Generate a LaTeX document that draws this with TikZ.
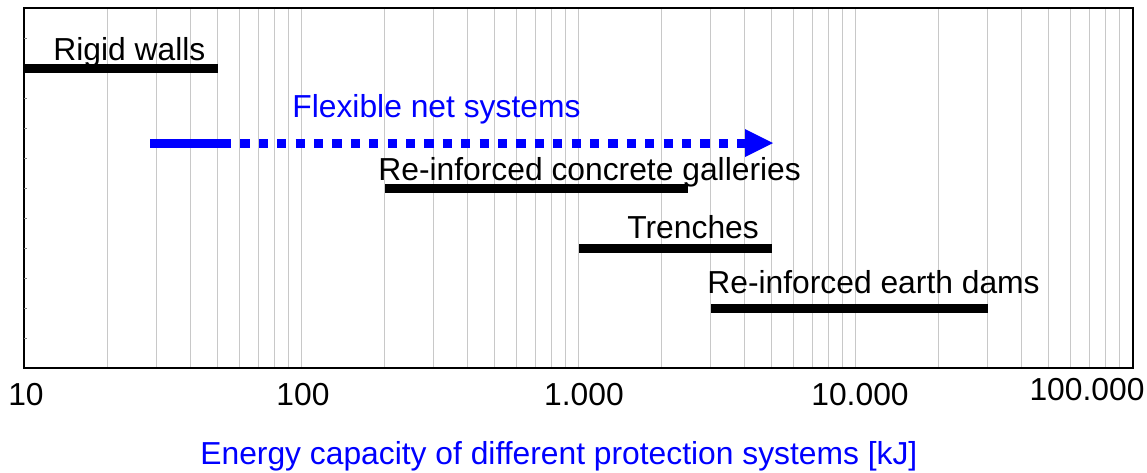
\documentclass[tikz,border=0pt]{standalone}
\usepackage{fontspec}
\setmainfont{Liberation Sans}
\definecolor{netblue}{RGB}{0,0,255}
\definecolor{gridgray}{RGB}{200,200,200}
\begin{document}
\begin{tikzpicture}[x=0.5pt,y=-0.5pt,
  lbl/.style={inner sep=0pt,font=\fontsize{15.9}{18}\selectfont},
  bar/.style={line width=4.5pt,black},
  netbar/.style={line width=4.5pt,netblue},
  gridline/.style={gridgray,line width=0.5pt}]
\useasboundingbox (0,0) rectangle (1147,472);
% grid
\foreach \d in {0,1,2,3}{
  \foreach \k in {2,...,10}{
    \pgfmathsetmacro{\gx}{24+277*(\d+ln(\k)/ln(10))}
    \draw[gridline] (\gx,8) -- (\gx,368);
  }
}
% frame
\draw[line width=0.75pt] (24,8) rectangle (1133,368);
\foreach \yy in {38,68,...,338}{
  \draw[gray,line width=0.4pt] (24,\yy) -- (27,\yy);
}
% bars
\coordinate (rw1) at (24,68);   \coordinate (rw2) at (218,68);
\coordinate (fn1) at (150,143); \coordinate (fn2) at (222,143);
\coordinate (fn3) at (745,143); \coordinate (fnt) at (773,143);
\coordinate (rc1) at (385,188); \coordinate (rc2) at (688,188);
\coordinate (tr1) at (579,248); \coordinate (tr2) at (772,248);
\coordinate (ed1) at (711,308); \coordinate (ed2) at (988,308);
\draw[bar] (rw1) -- (rw2);
\draw[bar] (rc1) -- (rc2);
\draw[bar] (tr1) -- (tr2);
\draw[bar] (ed1) -- (ed2);
\draw[netbar] (fn1) -- (fn2);
\draw[netbar,dash pattern=on 4.6pt off 4.6pt] (fn2) -- (fn3);
\fill[netblue] (745,129) -- (fnt) -- (745,157) -- cycle;
% labels
\node[lbl,anchor=base west] (trw) at (53,60) {Rigid walls};
\node[lbl,anchor=base west,text=netblue] (tfn) at (292,117) {Flexible net systems};
\node[lbl,anchor=base west] (trc) at (378,180) {Re-inforced concrete galleries};
\node[lbl,anchor=base west] (ttr) at (627,238) {Trenches};
\node[lbl,anchor=base west] (ted) at (707,293) {Re-inforced earth dams};
% tick labels
\node[lbl,anchor=base] (x1) at (26,405) {10};
\node[lbl,anchor=base] (x2) at (303,405) {100};
\node[lbl,anchor=base] (x3) at (584,405) {1.000};
\node[lbl,anchor=base] (x4) at (860,405) {10.000};
\node[lbl,anchor=base] (x5) at (1087,400) {100.000};
% axis title
\node[lbl,anchor=base west,text=netblue] (xt) at (200,464) {Energy capacity of different protection systems [kJ]};
\end{tikzpicture}
\end{document}
